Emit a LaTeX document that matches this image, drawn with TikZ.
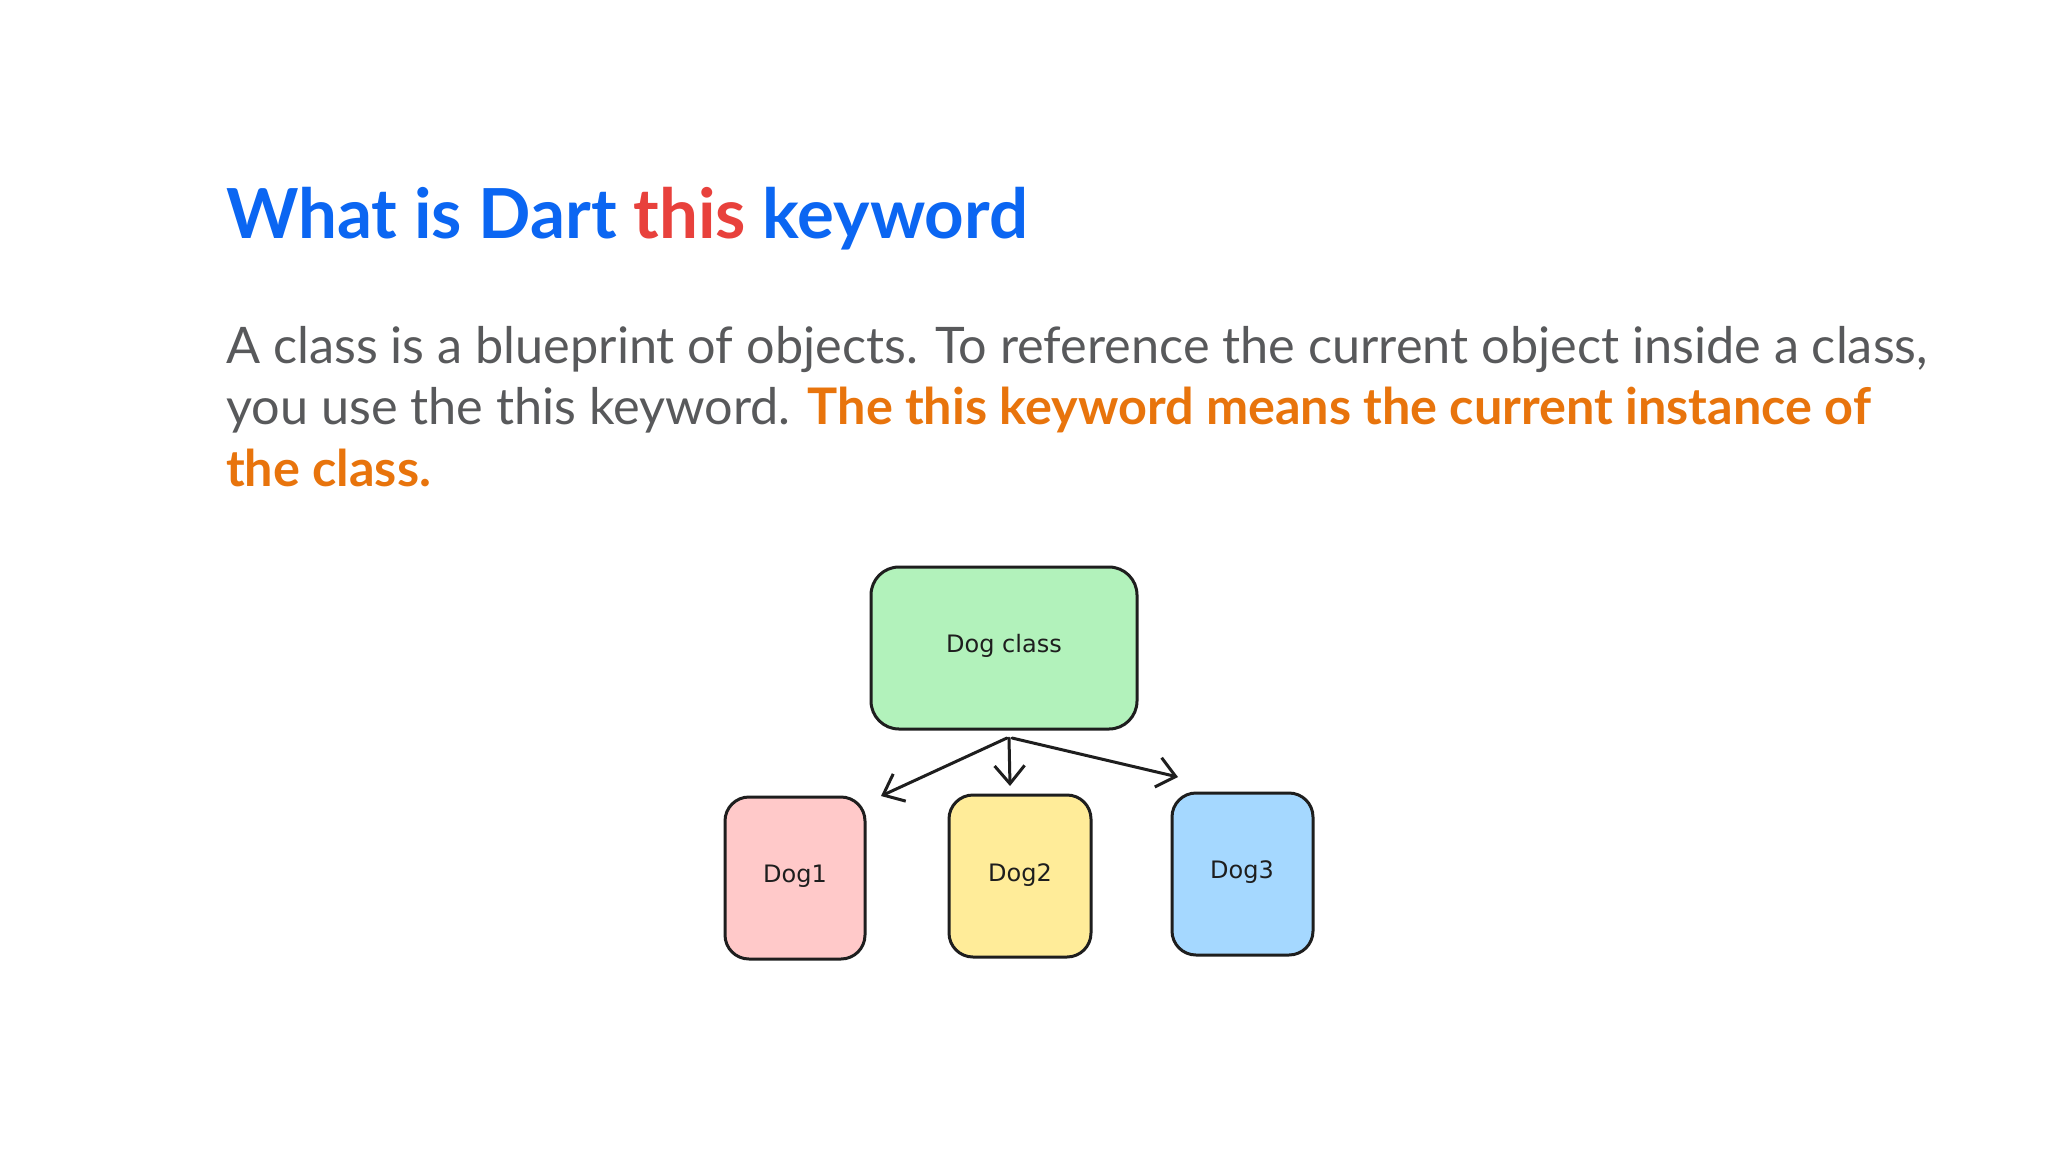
\documentclass[tikz,border=0pt]{standalone}
\usepackage{fontspec}
\setmainfont{Lato}
\newfontfamily\labelfont{DejaVu Sans}
\usetikzlibrary{arrows.meta}
\definecolor{titleblue}{HTML}{0B66F2}
\definecolor{titlered}{HTML}{E8413C}
\definecolor{bodygray}{HTML}{58595B}
\definecolor{bodyorange}{HTML}{E8740C}
\definecolor{stroke}{HTML}{1E1E1E}
\definecolor{fgreen}{HTML}{B2F2BB}
\definecolor{fred}{HTML}{FFC9C9}
\definecolor{fyellow}{HTML}{FFEC99}
\definecolor{fblue}{HTML}{A5D8FF}
\tikzset{
  card/.style={draw=stroke, line width=3pt, rounded corners=28pt, inner sep=0pt},
  lbl/.style={font=\labelfont\fontsize{24}{27}\selectfont, text=stroke},
  link/.style={draw=stroke, line width=3pt, line cap=round, -{Straight Barb[length=18pt,width=30pt,line width=3pt]}},
  titletext/.style={anchor=base west, inner sep=0pt, font=\fontsize{69}{80}\selectfont\bfseries},
  bodytext/.style={anchor=base west, inner sep=0pt, font=\fontsize{50.4}{60}\selectfont, text=bodygray},
}
\begin{document}
\begin{tikzpicture}[x=1pt,y=-1pt]
\useasboundingbox[fill=white] (0,0) rectangle (2048,1152);
\node[titletext] (title) at (226,238) {\textcolor{titleblue}{What is Dart} \textcolor{titlered}{this} \textcolor{titleblue}{keyword}};
\node[bodytext] (l1) at (226,363) {A class is a blueprint of objects. To reference the current object inside a class,};
\node[bodytext] (l2) at (226,424) {you use the this keyword. \textcolor{bodyorange}{\bfseries The this keyword means the current instance of}};
\node[bodytext] (l3) at (226,486) {\textcolor{bodyorange}{\bfseries the class.}};

\draw[card, fill=fgreen] (871,567) rectangle (1137,729);
\node[lbl] (dc) at (1004,646) {Dog class};
\draw[card, fill=fred, rounded corners=24pt] (725,797) rectangle (865,959);
\node[lbl] (d1) at (795,876) {Dog1};
\draw[card, fill=fyellow, rounded corners=24pt] (949,795) rectangle (1091,957);
\node[lbl] (d2) at (1020,875) {Dog2};
\draw[card, fill=fblue, rounded corners=24pt] (1172,793) rectangle (1313,955);
\node[lbl] (d3) at (1242,872) {Dog3};

\coordinate (s1) at (1007,738);
\coordinate (s2) at (1009,738);
\coordinate (s3) at (1012,738);
\coordinate (e1) at (881,796);
\coordinate (e2) at (1010,786);
\coordinate (e3) at (1178,777);
\draw[link] (s1) -- (e1);
\draw[link] (s2) -- (e2);
\draw[link] (s3) -- (e3);
\end{tikzpicture}
\end{document}
